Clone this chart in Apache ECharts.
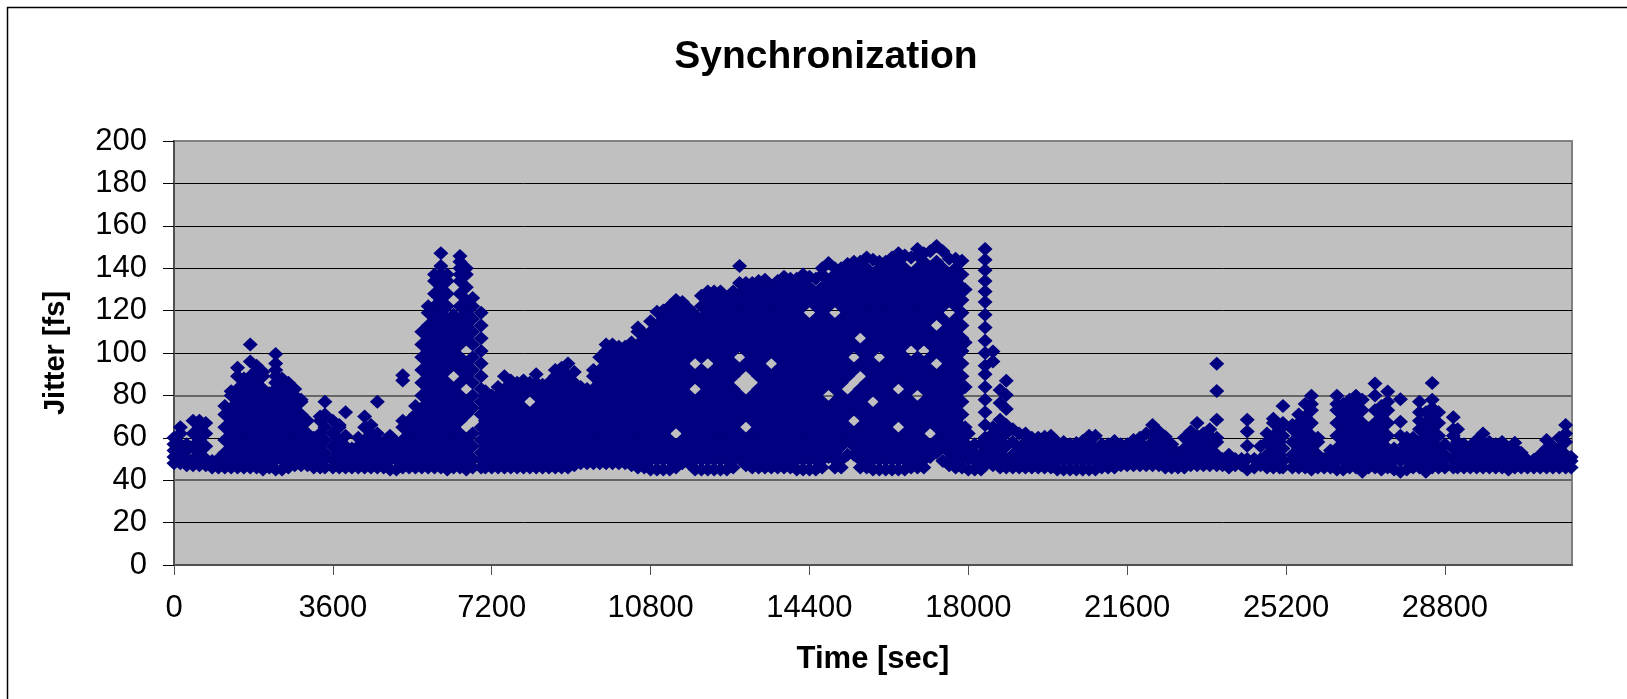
<!DOCTYPE html>
<html><head><meta charset="utf-8">
<script src="https://cdn.jsdelivr.net/npm/echarts@6/dist/echarts.min.js"></script>
<style>html,body{margin:0;padding:0;background:#fff}#c{width:1627px;height:699px}</style>
</head><body><div id="c"></div>
<script>
const titleText = 'Synchronization';
const xName = 'Time [sec]';
const yName = 'Jitter [fs]';
const xTicks = [0,3600,7200,10800,14400,18000,21600,25200,28800];
const yTicks = [0,20,40,60,80,100,120,140,160,180,200];
// Each row: time, then the jitter readings at that time
const part1 = [
[0,48,51,54,57,60],[144,48,51,54,57,62,65],[288,47,50,54,57],[432,47,50,56,62,68],[576,47,53,59,65,68],[720,47,50,56,62,67],
[864,46,49],[1008,46,50],[1152,46,53,59,65,71,75],[1296,46,50,56,62,68,74,80,82],[1440,46,53,59,65,71,77,83,89,93],
[1584,46,50,56,62,68,74,80,86,88],[1728,46,53,59,65,71,77,83,89,96,104],[1872,46,50,56,62,68,74,80,86,92,94],
[2016,45,53,59,65,71,77,83,89,91],[2160,46,50,56,62,68,74,80,81],[2304,45,53,59,65,71,77,83,86,89,92,95,99.5],
[2448,45,50,56,62,68,74,80,86,88],[2592,46,53,59,65,71,77,83,86],[2736,47,50,56,62,68,74,80,83],[2880,47,53,59,65,71,77,78],
[3024,47,50,56,62,68],[3168,46,53,59,60],[3312,46,50,56,62,68,70],[3420,46,53,59,65,71,77]
];
const part2 = [
[3600,46,50,56,62,68],[3744,46,53,59,65,66],[3888,46,50,56,61,72],[4032,46,53,55],[4176,46,50,56,60],[4320,46,53,59,65,70],
[4464,46,50,56,62,66],[4608,46,53,59,62,77],[4752,46,50,56,58],[4896,45,53,59,61],[5040,45,50,56,58],[5184,46,53,59,65,68,87,89.5],
[5328,46,50,56,62,68],[5472,46,53,59,65,71,75],[5616,46,50,56,62,68,74,80,86,92,98,104,110],
[5760,46,53,59,65,71,77,83,89,95,101,107,113,119,122],[5904,46,50,56,62,68,74,80,86,92,98,104,110,116,122,128,134,137],
[6048,46,53,59,65,71,77,83,89,95,101,107,113,119,125,131,137,141,147],[6192,45,50,56,62,68,74,80,86,92,98,104,110,116,122,128,134,137],
[6336,46,53,59,65,71,77,83,95,101,107,113,118],[6480,46,50,56,62,68,74,80,86,92,98,104,110,116,122,128,134,137,140,143,145.7],
[6624,45,53,59,71,77,89,95,107,113,119,125,131,137,140],[6768,46,50,56,62,74,80,86,92,98,104,110,116,122,126],
[6960,46,53,59,65,71,77,83,89,95,101,107,113,119],[7056,46,50,56,62,68,74,80,82]
];
const part3 = [
[7200,46,53,59,65,71,77,80],[7344,46,50,56,62,68,74,80,84],[7488,46,53,59,65,71,77,83,89],[7632,46,50,56,62,68,74,80,86,87],
[7776,46,53,59,65,71,77,83,86],[7920,46,50,56,62,68,74,80,86,87],[8064,46,53,59,65,71,83,86],[8208,46,50,56,62,68,74,80,86,90],
[8352,46,53,59,65,71,77,83,85],[8496,46,50,56,62,68,74,80,86],[8640,46,53,59,65,71,77,83,89,92],[8784,46,50,56,62,68,74,80,86,92,93],
[8928,46,53,59,65,71,77,83,89,95],[9072,47,50,56,62,68,74,80,86,91],[9216,48,53,59,65,71,77,83,84],[9360,48,50,56,62,68,74,80,83],
[9504,48,53,59,65,71,77,83,89,92],[9648,48,50,56,62,68,74,80,86,92,98],[9792,48,53,59,65,71,77,83,89,95,101,104],
[9936,48,50,56,62,68,74,80,86,92,98,104],[10080,48,53,59,65,71,77,83,89,95,101,103],[10224,48,50,56,62,68,74,80,86,92,98,103],
[10368,47,53,59,65,71,77,83,89,95,101,105],[10512,46,50,56,62,68,74,80,86,92,98,104,110,112],[10656,46,53,59,65,71,77,83,89,95,101,107,109]
];
const part4 = [
[10800,45,50,56,62,68,74,80,86,92,98,104,110,115],[10944,45,53,59,65,71,77,83,89,95,101,107,113,119.5],
[11088,45,50,56,62,68,74,80,86,92,98,104,110,116,120],[11232,45,53,59,65,71,77,83,89,95,101,107,113,119,122],
[11376,46,50,56,68,74,80,86,92,98,104,110,116,122,125],[11520,48,53,59,65,71,77,83,89,95,101,107,113,119,124],
[11664,48,50,56,62,68,74,80,86,92,98,104,110,116,121],[11808,45,53,59,65,71,77,89,101,107,113,118],
[11952,45,50,56,62,68,74,80,86,92,98,104,110,116,122,127],[12096,45,53,59,65,71,77,83,89,101,107,113,119,125,129],
[12240,45,50,56,62,68,74,80,86,92,98,104,110,116,122,128,129],[12384,45,53,59,65,71,77,83,89,95,101,107,113,119,125,129],
[12528,45,50,56,62,68,74,80,86,92,98,104,110,116,122,126],[12672,46,53,59,65,71,77,83,89,95,101,107,113,119,125,129],
[12816,50,56,62,68,74,80,92,104,110,116,122,128,133,141],[12960,47,53,59,71,77,95,101,107,113,119,125,131,133],
[13104,46,50,56,62,68,74,80,92,98,104,110,116,122,128,133],[13248,46,53,59,65,71,77,83,89,95,101,107,113,119,125,131,134],
[13392,46,50,56,62,68,74,80,86,92,98,104,110,116,122,128,134.5],[13536,46,53,59,65,71,77,83,89,101,107,113,119,125,131],
[13680,46,50,56,62,68,74,80,86,92,98,104,110,116,122,128,134],[13824,46,53,59,65,71,77,83,89,95,101,107,113,119,125,131,136],
[13968,46,50,56,62,68,74,80,86,92,98,104,110,116,122,128,134,135],[14112,45,53,59,65,71,77,83,89,95,101,107,113,119,125,131,135],
[14256,45,50,56,62,68,74,80,86,92,98,104,110,116,122,128,134,137],[14400,45,53,59,65,71,77,83,89,95,101,107,113,125,131,136]
];
const part5 = [
[14544,45,50,56,62,68,74,80,86,92,98,104,110,116,122,128,135],[14688,46,53,59,65,71,77,83,89,95,101,107,113,119,125,131,137,140],
[14832,51,56,62,68,74,86,92,98,104,110,116,122,128,134,142.5],[14976,46,53,59,65,71,77,83,89,95,101,107,113,125,131,137,140],
[15120,46,50,56,62,68,74,80,86,92,98,104,110,116,122,128,134,140],[15264,52,59,65,71,77,89,95,101,107,113,119,125,131,137,142],
[15408,52,56,62,74,80,92,104,110,116,122,128,134,140,143],[15552,46,53,59,65,71,77,83,95,101,113,119,125,131,137,143],
[15696,46,50,56,62,68,74,80,86,92,98,104,110,116,122,128,134,140,145],[15840,45,53,59,65,71,83,89,95,101,107,113,119,125,131,137,144],
[15984,45,50,56,62,68,74,80,86,92,104,110,116,122,128,134,140,143],[16128,45,53,59,65,71,77,83,89,95,101,107,113,119,125,131,137,143],
[16272,45,50,56,62,68,74,80,86,92,98,104,110,116,122,128,134,140,145],[16416,45,53,59,71,77,89,95,101,107,113,119,125,131,137,143,147],
[16560,45,50,56,62,68,74,80,86,92,98,104,110,116,122,128,134,140,146],[16704,46,53,59,65,71,77,83,89,95,107,113,119,125,131,137,145],
[16848,46,50,56,62,68,74,86,92,98,104,110,116,122,128,134,140,146,149],[16992,46,53,59,65,71,77,83,89,95,107,113,119,125,131,137,143,147],
[17136,51,56,68,74,80,86,92,98,104,110,116,122,128,134,140,148],[17280,53,59,65,71,77,83,89,101,107,119,125,131,137,143,150.5],
[17424,49,56,62,68,74,80,86,92,98,104,110,116,122,128,134,140,148],[17568,47,53,59,65,71,77,83,89,95,101,107,113,125,131,137,144.5],
[17712,46,50,56,62,68,74,80,86,92,98,104,110,116,122,128,134,140,144.5],[17856,46,53,59,65,71,77,83,89,95,101,107,113,119,125,131,137,143.5],
[17928,65,84,105,130]
];
const part6 = [
[18000,45,50,56,62],[18144,45,49,53,57],[18288,45,48,52,57],
[18380,47,50,53,56,59,60,66,72,78,84,90,94,100,105.8,112,118,124,129,134,139,144,149],
[18558,47,50,53,56,59,62,65,96,100.7],[18720,46,50,53,56,59,62,65,68.5,76.4,82.6],[18860,46,50,56,62,66,73.6,80.2,86.9],
[19008,46,52,58,64],[19152,46,49,55,62],[19296,46,52,58,62],[19440,46,49,55,60],[19584,46,52,58,60],[19728,46,49,55,60.5],
[19872,46,52,58,61],[20016,45,49,55,58],[20160,45,52,58],[20304,45,49,55,57],[20448,45,52,57.5],[20592,45,49,55,58.5],
[20736,45,52,58,61],[20880,45,49,55,61],[21024,46,52,57],[21168,46,49,55,57],[21312,46,52,58.5],[21456,47,49,55,57],
[21600,47,52,57],[21744,47,49,55,59],[21888,47,52,58,60],[22032,47,49,55,62],[22176,47,52,58,62,66],[22320,47,49,55,61,63],
[22464,46,52,58,60.5],[22608,46,49,55,57],[22752,46,53],[22896,46,49,55,60],[23040,47,52,58,63],[23184,47,49,55,61,67],
[23328,47,52,58,62],[23472,47,49,55,61,64],[23630,47,52,58,60,68.5,82.1,94.9]
];
const part7 = [
[23760,47,50],[23904,46,49,52],[24048,47,50],[24192,47,50],[24320,45,50,56.2,63,68.5],[24480,46,50],[24624,47,50,56],
[24768,46,52,58,62],[24912,46,49,55,61,67,69],[25056,46,52,58,64,65],[25130,46,49,55,61,67,75],[25344,46,52,58,64,66],
[25488,46,49,55,61,67,71],[25632,46,52,58,64,70,76],[25776,45,49,55,61,67,73,76,79.8],[25920,46,52,58,60],[26064,46,49,50],
[26208,46,52,54],[26352,45,49,55,61,67,73,76,79.8],[26496,45,52,58,64,70,76],[26640,46,49,55,61,67,73,78],
[26784,46,52,58,64,70,76,79.8],[26928,44,49,55,61,67,73,78],[27072,46,52,58,64],[27216,46,49,55,61,67,73,80,85.6],
[27360,45,52,58,64,70,75],[27504,46,49,55,61,67,73,77,81.8],[27648,45,52,55],[27792,44,49,55,61,67.6,78.2],[27936,45,52,58,60],
[28080,46,49,55,60],[28224,46,52,58,64,68,72,77],[28368,44,49,55,61,67,72],[28512,46,52,58,64,70,74,78,85.8],[28656,46,49,55,61,67,72],
[28800,46,52,57],[28990,46,49,55,61,64,69.7],[29088,46,52,58,64],[29232,46,49,55,57],[29376,46,52,56],[29520,46,49,55,59],
[29664,46,52,58,62],[29808,46,49,55,58],[29952,46,52,57],[30096,46,49,55,58],[30240,45,52,55],[30384,46,49,55,57.7],[30528,46,52,53],
[30672,46,49.5],[30816,46,49.7],[30960,46,52],[31104,46,49,55,59],[31248,46,52,56],[31392,46,49,55,60],[31536,46,52,58,62,66],
[31660,46,49,51]
];
// Times that also have a reading near the top of the low band (about 49.5 fs)
const bandTimes = [432,576,720,1152,1296,1440,1584,1728,1872,2016,2160,2304,2448,2592,2736,2880,3024,3168,3312,3420,3600,3744,3888,4032,4176,4320,4464,4608,4752,4896,5040,5184,5328,5472,5616,5760,5904,6048,6192,6336,6480,6624,6768,6960,7056,7200,7344,7488,7632,7776,7920,8064,8208,8352,8496,8640,8784,8928,9072,9216,9360,9504,9648,9792,9936,10080,10224,10368,10512,10656,10800,10944,11088,11232,11376,11520,11664,11808,11952,12096,12240,12384,12528,12672,12960,13104,13248,13392,13536,13680,13824,13968,14112,14256,14400,14544,14688,14976,15120,15552,15696,15840,15984,16128,16272,16416,16560,16704,16848,16992,17568,17712,17856,19008,19152,19296,19440,19584,19728,19872,20016,20160,20304,20448,20592,20736,20880,21024,21168,21312,21456,21600,21744,21888,22032,22176,22320,22464,22608,22752,22896,23040,23184,23328,23472,23630,24768,24912,25056,25130,25344,25488,25632,25776,25920,26208,26352,26496,26640,26784,26928,27072,27216,27360,27504,27648,27792,27936,28080,28224,28368,28512,28656,28800,28990,29088,29232,29376,29520,29664,29808,29952,30096,30240,30384,30528,30960,31104,31248,31392,31536];

const rows = [...part1,...part2,...part3,...part4,...part5,...part6,...part7];
const points = rows.flatMap(r => r.slice(1).map(v => [r[0], v])).concat(bandTimes.map(t => [t, 49.5]));

const font = '"Liberation Sans", Arial, sans-serif';
const chart = echarts.init(document.getElementById('c'));
chart.setOption({
  animation:false,
  backgroundColor:'#fff',
  title:{text:titleText,left:821,top:33,textAlign:'center',textStyle:{fontFamily:font,fontSize:39,fontWeight:'bold',color:'#000'}},
  grid:{left:174,top:141,width:1398,height:424,show:true,backgroundColor:'#C0C0C0',borderColor:'#808080',borderWidth:2},
  xAxis:{type:'value',min:0,max:31680,interval:3600,name:xName,nameLocation:'middle',nameGap:79,
    nameTextStyle:{fontFamily:font,fontSize:31,fontWeight:'bold',color:'#000'},
    axisLine:{show:true,onZero:false,lineStyle:{color:'#505050',width:2}},
    axisTick:{show:true,length:10,customValues:xTicks,lineStyle:{color:'#505050',width:1}},
    axisLabel:{fontFamily:font,fontSize:31,color:'#000',margin:28,customValues:xTicks,hideOverlap:false,formatter:v=>String(v)},
    splitLine:{show:false}},
  yAxis:{type:'value',min:0,max:200,interval:20,name:yName,nameLocation:'middle',nameGap:104,
    nameTextStyle:{fontFamily:font,fontSize:29,fontWeight:'bold',color:'#000'},
    axisLine:{show:true,lineStyle:{color:'#505050',width:2}},
    axisTick:{show:true,length:11,customValues:yTicks,lineStyle:{color:'#000',width:1}},
    axisLabel:{fontFamily:font,fontSize:31,color:'#000',margin:27,customValues:yTicks,formatter:v=>String(v)},
    splitLine:{show:true,showMinLine:false,showMaxLine:false,lineStyle:{color:'#000',width:1}}},
  graphic:[
    {type:'line',silent:true,shape:{x1:7,y1:7.5,x2:1627,y2:7.5},style:{stroke:'#000',lineWidth:1.5}},
    {type:'line',silent:true,shape:{x1:7.5,y1:7,x2:7.5,y2:699},style:{stroke:'#000',lineWidth:1.5}}
  ],
  series:[
    {type:'scatter',data:[],z:1,silent:true,
     markLine:{silent:true,symbol:'none',animation:false,z:1,label:{show:false},lineStyle:{color:'#666',width:2,type:'solid'},
       data:[{yAxis:40},{yAxis:80}]}},
    {type:'scatter',data:points,z:6,symbol:'diamond',symbolSize:[15,14],large:false,
     itemStyle:{color:'#000080',opacity:1},silent:true}
  ]
});
</script></body></html>
